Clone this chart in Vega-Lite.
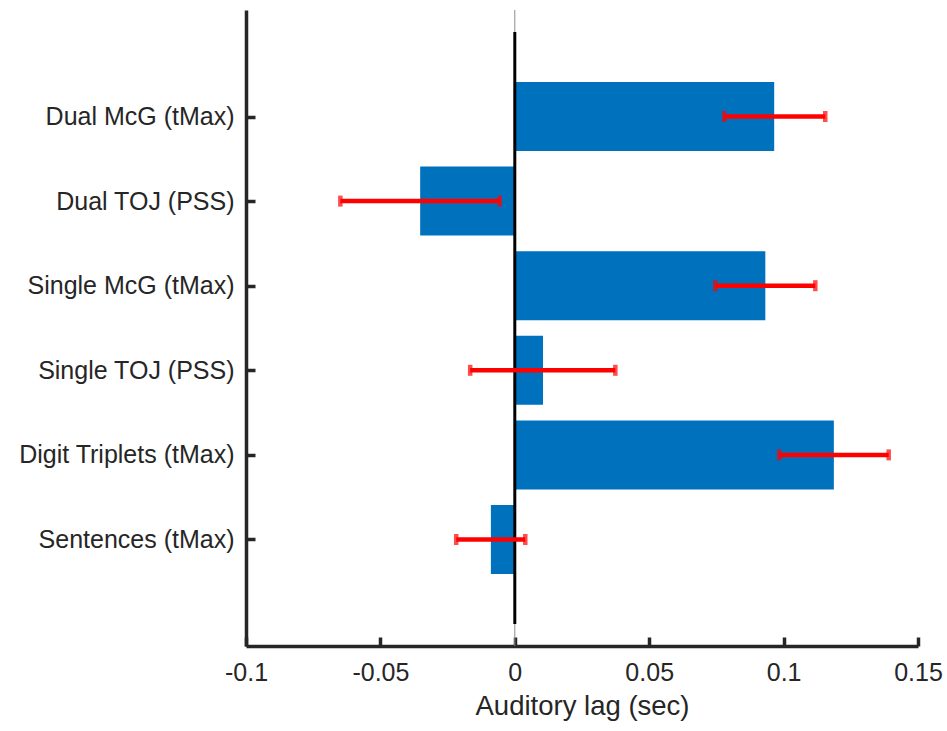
{
  "$schema": "https://vega.github.io/schema/vega-lite/v6.json",
  "width": 672,
  "height": 636,
  "autosize": {"type": "none"},
  "padding": {"left": 246, "top": 10, "right": 29, "bottom": 85},
  "background": "white",
  "config": {
    "view": {"stroke": null},
    "font": "Liberation Sans",
    "axis": {
      "domainColor": "#262626",
      "domainWidth": 3.5,
      "tickColor": "#262626",
      "tickWidth": 3.5,
      "tickSize": -9,
      "labelColor": "#262626",
      "labelFont": "Liberation Sans",
      "labelFontSize": 25,
      "labelLimit": 0,
      "labelFlush": false,
      "titleFont": "Liberation Sans",
      "titleFontSize": 27.5,
      "titleFontWeight": "normal",
      "titleColor": "#262626",
      "grid": false
    }
  },
  "datasets": {
    "bars": [
      {"cond": "Dual McG (tMax)", "pos": 1, "value": 0.0965, "lo": 0.0779, "hi": 0.1155},
      {"cond": "Dual TOJ (PSS)", "pos": 2, "value": -0.0352, "lo": -0.0649, "hi": -0.0056},
      {"cond": "Single McG (tMax)", "pos": 3, "value": 0.0932, "lo": 0.0746, "hi": 0.1118},
      {"cond": "Single TOJ (PSS)", "pos": 4, "value": 0.0105, "lo": -0.0166, "hi": 0.0374},
      {"cond": "Digit Triplets (tMax)", "pos": 5, "value": 0.1187, "lo": 0.0984, "hi": 0.1391},
      {"cond": "Sentences (tMax)", "pos": 6, "value": -0.0089, "lo": -0.0218, "hi": 0.0039}
    ],
    "zero": [{"x": 0, "y0": 0, "y1": 7}]
  },
  "layer": [
    {
      "data": {"name": "zero"},
      "mark": {"type": "rule", "color": "#8c8c8c", "strokeWidth": 1},
      "encoding": {
        "x": {"field": "x", "type": "quantitative"}
      }
    },
    {
      "data": {"name": "bars"},
      "mark": {"type": "bar", "color": "#0072BD", "height": 69},
      "encoding": {
        "x": {
          "field": "value",
          "type": "quantitative",
          "scale": {"domain": [-0.1, 0.15], "nice": false, "zero": false},
          "axis": {
            "title": "Auditory lag (sec)",
            "values": [-0.1, -0.05, 0, 0.05, 0.1, 0.15],
            "labelExpr": "'' + datum.value",
            "labelPadding": 23,
            "titlePadding": 7
          }
        },
        "x2": {"datum": 0},
        "y": {
          "field": "pos",
          "type": "quantitative",
          "scale": {"domain": [-0.2, 7.2], "nice": false, "zero": false, "reverse": true},
          "axis": {
            "title": null,
            "values": [1, 2, 3, 4, 5, 6],
            "labelExpr": "['', 'Dual McG (tMax)', 'Dual TOJ (PSS)', 'Single McG (tMax)', 'Single TOJ (PSS)', 'Digit Triplets (tMax)', 'Sentences (tMax)'][datum.value]",
            "labelPadding": 21,
            "encode": {
              "labels": {
                "update": {
                  "dx": [
                    {"test": "datum.value == 2 || datum.value == 4", "value": 6},
                    {"value": 0}
                  ]
                }
              }
            }
          }
        }
      }
    },
    {
      "data": {"name": "zero"},
      "mark": {"type": "rule", "color": "#000000", "strokeWidth": 3},
      "encoding": {
        "x": {"field": "x", "type": "quantitative"},
        "y": {"field": "y0", "type": "quantitative"},
        "y2": {"field": "y1"}
      }
    },
    {
      "data": {"name": "bars"},
      "mark": {"type": "rule", "color": "#ff0000", "strokeWidth": 4.5},
      "encoding": {
        "x": {"field": "lo", "type": "quantitative"},
        "x2": {"field": "hi"},
        "y": {"field": "pos", "type": "quantitative"}
      }
    },
    {
      "data": {"name": "bars"},
      "mark": {"type": "tick", "color": "#ff0000", "orient": "vertical", "size": 11, "thickness": 4.5},
      "encoding": {
        "x": {"field": "lo", "type": "quantitative"},
        "y": {"field": "pos", "type": "quantitative"}
      }
    },
    {
      "data": {"name": "bars"},
      "mark": {"type": "tick", "color": "#ff0000", "orient": "vertical", "size": 11, "thickness": 4.5},
      "encoding": {
        "x": {"field": "hi", "type": "quantitative"},
        "y": {"field": "pos", "type": "quantitative"}
      }
    }
  ]
}
